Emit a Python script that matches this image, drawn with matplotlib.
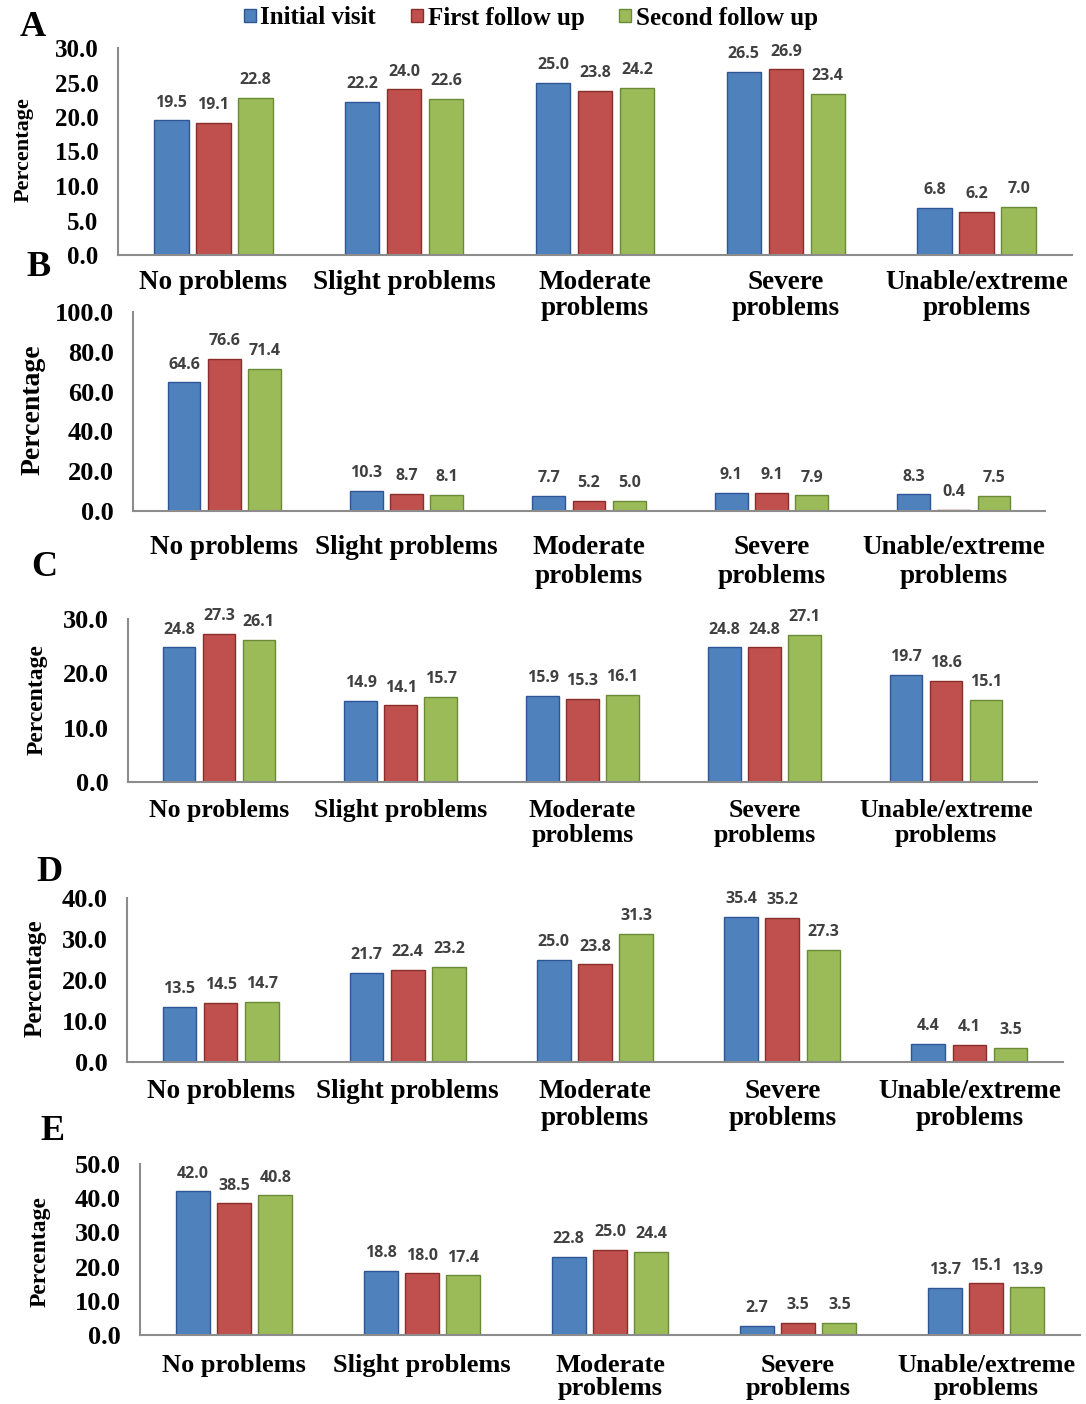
import matplotlib.pyplot as plt
import numpy as np
from matplotlib.patches import Patch

# categories and series
categories = ["No problems", "Slight problems", "Moderate\nproblems",
              "Severe\nproblems", "Unable/extreme\nproblems"]
series_names = ["Initial visit", "First follow up", "Second follow up"]

# panel A
a_initial = [19.5, 22.2, 25.0, 26.5, 6.8]
a_first = [19.1, 24.0, 23.8, 26.9, 6.2]
a_second = [22.8, 22.6, 24.2, 23.4, 7.0]
# panel B
b_initial = [64.6, 10.3, 7.7, 9.1, 8.3]
b_first = [76.6, 8.7, 5.2, 9.1, 0.4]
b_second = [71.4, 8.1, 5.0, 7.9, 7.5]
# panel C
c_initial = [24.8, 14.9, 15.9, 24.8, 19.7]
c_first = [27.3, 14.1, 15.3, 24.8, 18.6]
c_second = [26.1, 15.7, 16.1, 27.1, 15.1]
# panel D
d_initial = [13.5, 21.7, 25.0, 35.4, 4.4]
d_first = [14.5, 22.4, 23.8, 35.2, 4.1]
d_second = [14.7, 23.2, 31.3, 27.3, 3.5]
# panel E
e_initial = [42.0, 18.8, 22.8, 2.7, 13.7]
e_first = [38.5, 18.0, 25.0, 3.5, 15.1]
e_second = [40.8, 17.4, 24.4, 3.5, 13.9]

# y ticks per panel
a_ticks = [0, 5, 10, 15, 20, 25, 30]
b_ticks = [0, 20, 40, 60, 80, 100]
c_ticks = [0, 10, 20, 30]
d_ticks = [0, 10, 20, 30, 40]
e_ticks = [0, 10, 20, 30, 40, 50]

colors = ["#4F81BD", "#C0504D", "#9BBB59"]
edges = ["#2F5597", "#8B2E2B", "#6A8A36"]

W, H = 1086, 1404
fig = plt.figure(figsize=(W / 100, H / 100), dpi=100)

serif = "Liberation Serif"

def px_axes(left, top, right, bottom):
    return fig.add_axes([left / W, 1 - bottom / H, (right - left) / W, (bottom - top) / H])

# letter, data, ticks, axes box (px), ytick size, xtick size, x linespacing, x pad,
# letter pos, ylabel pos, ylabel size
panels = [
    ("A", (a_initial, a_first, a_second), a_ticks, (118, 48, 1072, 255), 18, 19.5, 1.05, 11,
     (20, 27), (24, 150), 16),
    ("B", (b_initial, b_first, b_second), b_ticks, (133, 312, 1045, 511), 19, 19.5, 1.25, 17,
     (26, 267), (33, 410), 20),
    ("C", (c_initial, c_first, c_second), c_ticks, (128, 619, 1037, 782), 19, 18.5, 1.15, 12,
     (31, 568), (37, 700), 17),
    ("D", (d_initial, d_first, d_second), d_ticks, (127, 898, 1063, 1062), 19, 19.5, 1.1, 12,
     (36, 872), (35, 978), 18),
    ("E", (e_initial, e_first, e_second), e_ticks, (140, 1164, 1080, 1335), 19, 19, 1.0, 14,
     (40, 1132), (40, 1252), 17),
]

x = np.arange(len(categories))
bw = 0.18
step = 0.22

for (letter, data, ticks, box, yfs, xfs, lsp, xpad,
     letter_pos, ylab_pos, ylab_fs) in panels:
    ax = px_axes(*box)
    ax.patch.set_visible(False)
    for i, vals in enumerate(data):
        bars = ax.bar(x + (i - 1) * step, vals, width=bw, color=colors[i],
                      edgecolor=edges[i], linewidth=1)
        for b, v in zip(bars, vals):
            ax.annotate("%.1f" % v, (b.get_x() + b.get_width() / 2, v),
                        xytext=(0, 7), textcoords="offset points",
                        ha="center", va="bottom", fontsize=11.5,
                        fontfamily="Open Sans", fontweight="bold", color="#404040")
    ax.set_xlim(-0.5, len(categories) - 0.5)
    ax.set_ylim(ticks[0], ticks[-1])
    ax.set_yticks(ticks)
    ax.set_yticklabels(["%.1f" % t for t in ticks], fontfamily=serif,
                       fontweight="bold", fontsize=yfs)
    ax.set_xticks(x)
    ax.set_xticklabels(categories, fontfamily=serif, fontweight="bold",
                       fontsize=xfs, linespacing=lsp)
    ax.tick_params(axis="both", length=0)
    ax.tick_params(axis="x", pad=xpad)
    ax.tick_params(axis="y", pad=14)
    for s in ["top", "right"]:
        ax.spines[s].set_visible(False)
    for s in ["left", "bottom"]:
        ax.spines[s].set_color("#8C8C8C")
        ax.spines[s].set_linewidth(1.5)
    fig.text(letter_pos[0] / W, 1 - letter_pos[1] / H, letter, fontfamily=serif,
             fontweight="bold", fontsize=26, ha="left", va="center")
    fig.text(ylab_pos[0] / W, 1 - ylab_pos[1] / H, "Percentage", fontfamily=serif,
             fontweight="bold", fontsize=ylab_fs, rotation=90, ha="center", va="center")

handles = [Patch(facecolor=colors[i], edgecolor=edges[i]) for i in range(3)]
fig.legend(handles, series_names, loc="center", bbox_to_anchor=(531 / W, 1 - 18 / H),
           ncol=3, frameon=False, prop={"family": serif, "weight": "bold", "size": 18},
           handlelength=0.45, handleheight=0.45, handletextpad=0.2, columnspacing=1.4,
           borderpad=0)

fig.savefig("out.png", dpi=100)
